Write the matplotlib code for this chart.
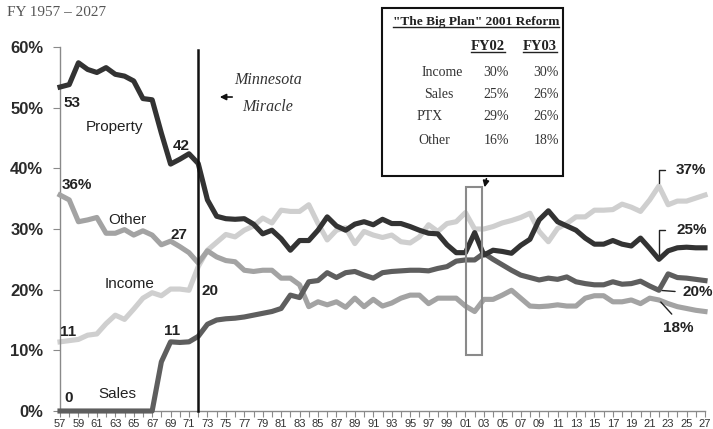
import matplotlib
matplotlib.use("Agg")
import matplotlib.pyplot as plt
from matplotlib.patches import Rectangle
from matplotlib.lines import Line2D

plt.rcParams['font.family'] = ['Liberation Sans', 'DejaVu Sans']

# fiscal years 1957 - 2027
years = list(range(1957, 2028))

# share of state general fund revenue, %
property_tax = [53.4, 53.8, 57.4, 56.3, 55.8, 56.6, 55.5, 55.2, 54.4, 51.5,
                51.3, 45.8, 40.7, 41.5, 42.4, 40.8, 34.8, 32.1, 31.7, 31.6,
                31.7, 30.8, 29.2, 29.8, 28.4, 26.5, 28.1, 28.1, 29.8, 32.0,
                30.5, 29.8, 30.8, 31.2, 30.7, 31.6, 30.9, 30.9, 30.4, 29.8,
                29.3, 29.2, 27.4, 26.1, 26.1, 29.4, 25.7, 26.5, 26.3, 26.0,
                27.3, 28.3, 31.5, 33.0, 31.2, 30.5, 29.8, 28.5, 27.5, 27.5,
                28.1, 27.5, 27.2, 28.5, 26.8, 25.0, 26.4, 26.9, 27.0, 26.9,
                26.9]
income_tax = [11.4, 11.6, 11.8, 12.5, 12.7, 14.4, 15.8, 15.1, 16.8, 18.6,
              19.5, 19.0, 20.1, 20.1, 19.9, 23.8, 26.5, 27.8, 29.1, 28.7,
              29.8, 30.5, 31.8, 31.0, 33.1, 32.9, 32.9, 34.0, 30.9, 28.2,
              29.8, 30.2, 27.6, 29.6, 29.0, 28.6, 29.0, 27.9, 27.7, 28.7,
              30.7, 29.6, 30.9, 31.2, 32.7, 30.0, 30.0, 30.4, 31.0, 31.4,
              31.9, 32.6, 29.6, 27.9, 30.1, 30.9, 32.0, 32.0, 33.1, 33.1,
              33.2, 34.1, 33.6, 32.9, 34.8, 37.1, 34.0, 34.6, 34.6, 35.1,
              35.6]
other_rev = [35.6, 34.8, 31.2, 31.5, 31.9, 29.3, 29.3, 29.9, 29.0, 29.7,
             29.0, 27.4, 28.0, 27.1, 26.1, 24.4, 26.4, 25.4, 24.8, 24.6,
             23.2, 23.0, 23.2, 23.2, 21.9, 21.9, 20.8, 17.2, 18.0, 17.5,
             18.0, 17.1, 18.6, 17.2, 18.4, 17.3, 17.8, 18.6, 19.1, 19.1,
             17.7, 18.6, 18.6, 18.6, 17.3, 16.4, 18.4, 18.4, 19.1, 19.9,
             18.6, 17.3, 17.2, 17.3, 17.5, 17.3, 17.3, 18.6, 19.0, 19.0,
             18.0, 18.0, 18.3, 17.7, 18.6, 18.3, 17.7, 17.2, 16.9, 16.6,
             16.4]
sales_tax = [0, 0, 0, 0, 0, 0, 0, 0, 0, 0,
             0, 8.1, 11.4, 11.3, 11.4, 12.3, 14.3, 15.0, 15.2, 15.3,
             15.5, 15.8, 16.1, 16.4, 16.9, 19.1, 18.7, 21.3, 21.5, 22.8,
             22.0, 22.8, 23.0, 22.4, 21.9, 22.8, 23.0, 23.1, 23.2, 23.2,
             23.1, 23.5, 23.8, 24.7, 24.9, 24.9, 26.0, 25.0, 24.1, 23.2,
             22.4, 22.0, 21.6, 21.9, 21.7, 22.1, 21.3, 21.0, 20.8, 20.8,
             21.3, 20.9, 21.0, 21.4, 20.6, 19.9, 22.6, 22.0, 21.9, 21.7,
             21.5]

yticks = [0, 10, 20, 30, 40, 50, 60]
ytick_labels = ['0%', '10%', '20%', '30%', '40%', '50%', '60%']

table_rows = ['Income', 'Sales', 'PTX', 'Other']
fy02 = ['30%', '25%', '29%', '16%']
fy03 = ['30%', '26%', '26%', '18%']

W, H = 713, 429
fig = plt.figure(figsize=(W / 100, H / 100), dpi=100)

# axes placed by pixel: x 60..705, y 47..411
ax = fig.add_axes([60 / W, 1 - 411 / H, 645 / W, 364 / H])
ax.set_xlim(1957, 2027)
ax.set_ylim(0, 60)


def px(x, y):
    # pixel in the figure -> data coords
    return 1957 + (x - 60) / 9.214, (411 - y) / 6.067


def fpx(x, y):
    # pixel in the figure -> figure fraction
    return x / W, 1 - y / H


lw = 3.7
ax.plot(years, other_rev, color='#a3a3a3', lw=lw, clip_on=False, zorder=3, solid_joinstyle='round')
ax.plot(years, income_tax, color='#cfcfcf', lw=lw, clip_on=False, zorder=2, solid_joinstyle='round')
ax.plot(years, sales_tax, color='#5e5e5e', lw=lw, clip_on=False, zorder=4, solid_joinstyle='round')
ax.plot(years, property_tax, color='#333333', lw=lw, clip_on=False, zorder=5, solid_joinstyle='round')

# Minnesota Miracle line
ax.plot([1972, 1972], [0, 59.5], color='#111111', lw=1.8, zorder=6, clip_on=False)
x0, y0 = px(235, 97)
x1, y1 = px(217, 97)
ax.annotate('', xy=(x1, y1), xytext=(x0, y0),
            arrowprops=dict(arrowstyle='-|>', color='#111111', lw=1.2, mutation_scale=9))
ax.text(*px(268, 80), 'Minnesota', family='Liberation Serif', style='italic',
        fontsize=11.5, color='#333333', ha='center', va='center')
ax.text(*px(268, 107), 'Miracle', family='Liberation Serif', style='italic',
        fontsize=11.5, color='#333333', ha='center', va='center')

# 2001 reform highlight box
hx0, hy0 = px(466, 355)
hx1, hy1 = px(482, 187)
ax.add_patch(Rectangle((hx0, hy0), hx1 - hx0, hy1 - hy0, fill=False,
                       edgecolor='#8a8a8a', lw=1.5, zorder=7, clip_on=False))
ax.annotate('', xy=px(484, 190), xytext=px(487, 176), annotation_clip=False,
            arrowprops=dict(arrowstyle='-|>', color='#111111', lw=1.2, mutation_scale=9))

# series labels
tc = '#222222'
for txt, x, y, bold in [('53', 72, 103, True), ('Property', 114, 127, False),
                        ('42', 181, 146, True), ('36%', 77, 185, True),
                        ('Other', 127, 220, False), ('27', 179, 235, True),
                        ('Income', 130, 284, False), ('20', 210, 291, True),
                        ('11', 68, 332, True), ('11', 172, 331, True),
                        ('0', 69, 398, True), ('Sales', 117, 394, False)]:
    ax.text(*px(x, y), txt, fontsize=11, color=tc, ha='center', va='center',
            fontweight='bold' if bold else 'normal', zorder=8)

# end labels with leader lines (FY22)
i22 = years.index(2022)
ax.annotate('37%', xy=(2022, income_tax[i22]), xytext=px(676, 170), fontsize=11,
            fontweight='bold', color=tc, ha='left', va='center', annotation_clip=False,
            arrowprops=dict(arrowstyle='-', color='#222222', lw=1.0, relpos=(0, 0.5),
                            connectionstyle='angle,angleA=180,angleB=90,rad=0',
                            shrinkA=6, shrinkB=2))
ax.annotate('25%', xy=(2022, property_tax[i22]), xytext=px(676, 230), fontsize=11,
            fontweight='bold', color=tc, ha='left', va='center', annotation_clip=False,
            arrowprops=dict(arrowstyle='-', color='#222222', lw=1.0, relpos=(0, 0.5),
                            connectionstyle='angle,angleA=180,angleB=90,rad=0',
                            shrinkA=6, shrinkB=2))
ax.annotate('20%', xy=(2022, sales_tax[i22]), xytext=px(682, 292), fontsize=11,
            fontweight='bold', color=tc, ha='left', va='center', annotation_clip=False,
            arrowprops=dict(arrowstyle='-', color='#222222', lw=1.0, relpos=(0, 0.5),
                            shrinkA=3, shrinkB=2))
ax.annotate('18%', xy=(2022, other_rev[i22]), xytext=px(678, 328), fontsize=11,
            fontweight='bold', color=tc, ha='center', va='center', annotation_clip=False,
            arrowprops=dict(arrowstyle='-', color='#222222', lw=1.0, relpos=(0.5, 1),
                            shrinkA=4, shrinkB=2))

# axes styling
for s in ['top', 'right']:
    ax.spines[s].set_visible(False)
for s in ['left', 'bottom']:
    ax.spines[s].set_color('#8a8a8a')
    ax.spines[s].set_linewidth(1.0)

ax.set_yticks(yticks)
ax.set_yticklabels(ytick_labels, fontsize=12, fontweight='bold', color='#2a2a2a')
ax.tick_params(axis='y', length=5, color='#8a8a8a', pad=7)
ax.set_xticks(years)
ax.set_xticklabels(['%02d' % (y % 100) if y % 2 == 1 else '' for y in years],
                   fontsize=8, color='#333333')
ax.tick_params(axis='x', length=4, color='#8a8a8a', pad=2)

fig.text(*fpx(7, 13), 'FY 1957 \u2013 2027', family='Liberation Serif', fontsize=11,
         color='#555555', ha='left', va='center')

# reform table
bx0, by0 = fpx(382, 176)
bx1, by1 = fpx(563, 8)
fig.add_artist(Rectangle((bx0, by0), bx1 - bx0, by1 - by0, transform=fig.transFigure,
                         facecolor='white', edgecolor='#111111', lw=1.5, zorder=10))
serif = 'Liberation Serif'
under = []
under.append(fig.text(*fpx(476, 22), '"The Big Plan" 2001 Reform', family=serif,
                      fontsize=9.6, fontweight='bold', color='#222222',
                      ha='center', va='center', zorder=11))
under.append(fig.text(*fpx(488, 46), 'FY02', family=serif, fontsize=10.5,
                      fontweight='bold', color='#222222', ha='center', va='center', zorder=11))
under.append(fig.text(*fpx(540, 46), 'FY03', family=serif, fontsize=10.5,
                      fontweight='bold', color='#222222', ha='center', va='center', zorder=11))
row_y = [72, 94, 117, 140]
row_x = [(442, 'center'), (439, 'center'), (417, 'left'), (418, 'left')]
for i in range(len(table_rows)):
    fig.text(*fpx(row_x[i][0], row_y[i]), table_rows[i], family=serif, fontsize=10,
             color='#333333', ha=row_x[i][1], va='center', zorder=11)
    fig.text(*fpx(509, row_y[i]), fy02[i], family=serif, fontsize=10,
             color='#333333', ha='right', va='center', zorder=11)
    fig.text(*fpx(559, row_y[i]), fy03[i], family=serif, fontsize=10,
             color='#333333', ha='right', va='center', zorder=11)

fig.canvas.draw()
for t in under:
    bb = t.get_window_extent()
    yy = (bb.y0 + 1) / H
    fig.add_artist(Line2D([bb.x0 / W, bb.x1 / W], [yy, yy], transform=fig.transFigure,
                          color='#222222', lw=1.0, zorder=11))

fig.savefig('out.png', dpi=100)
